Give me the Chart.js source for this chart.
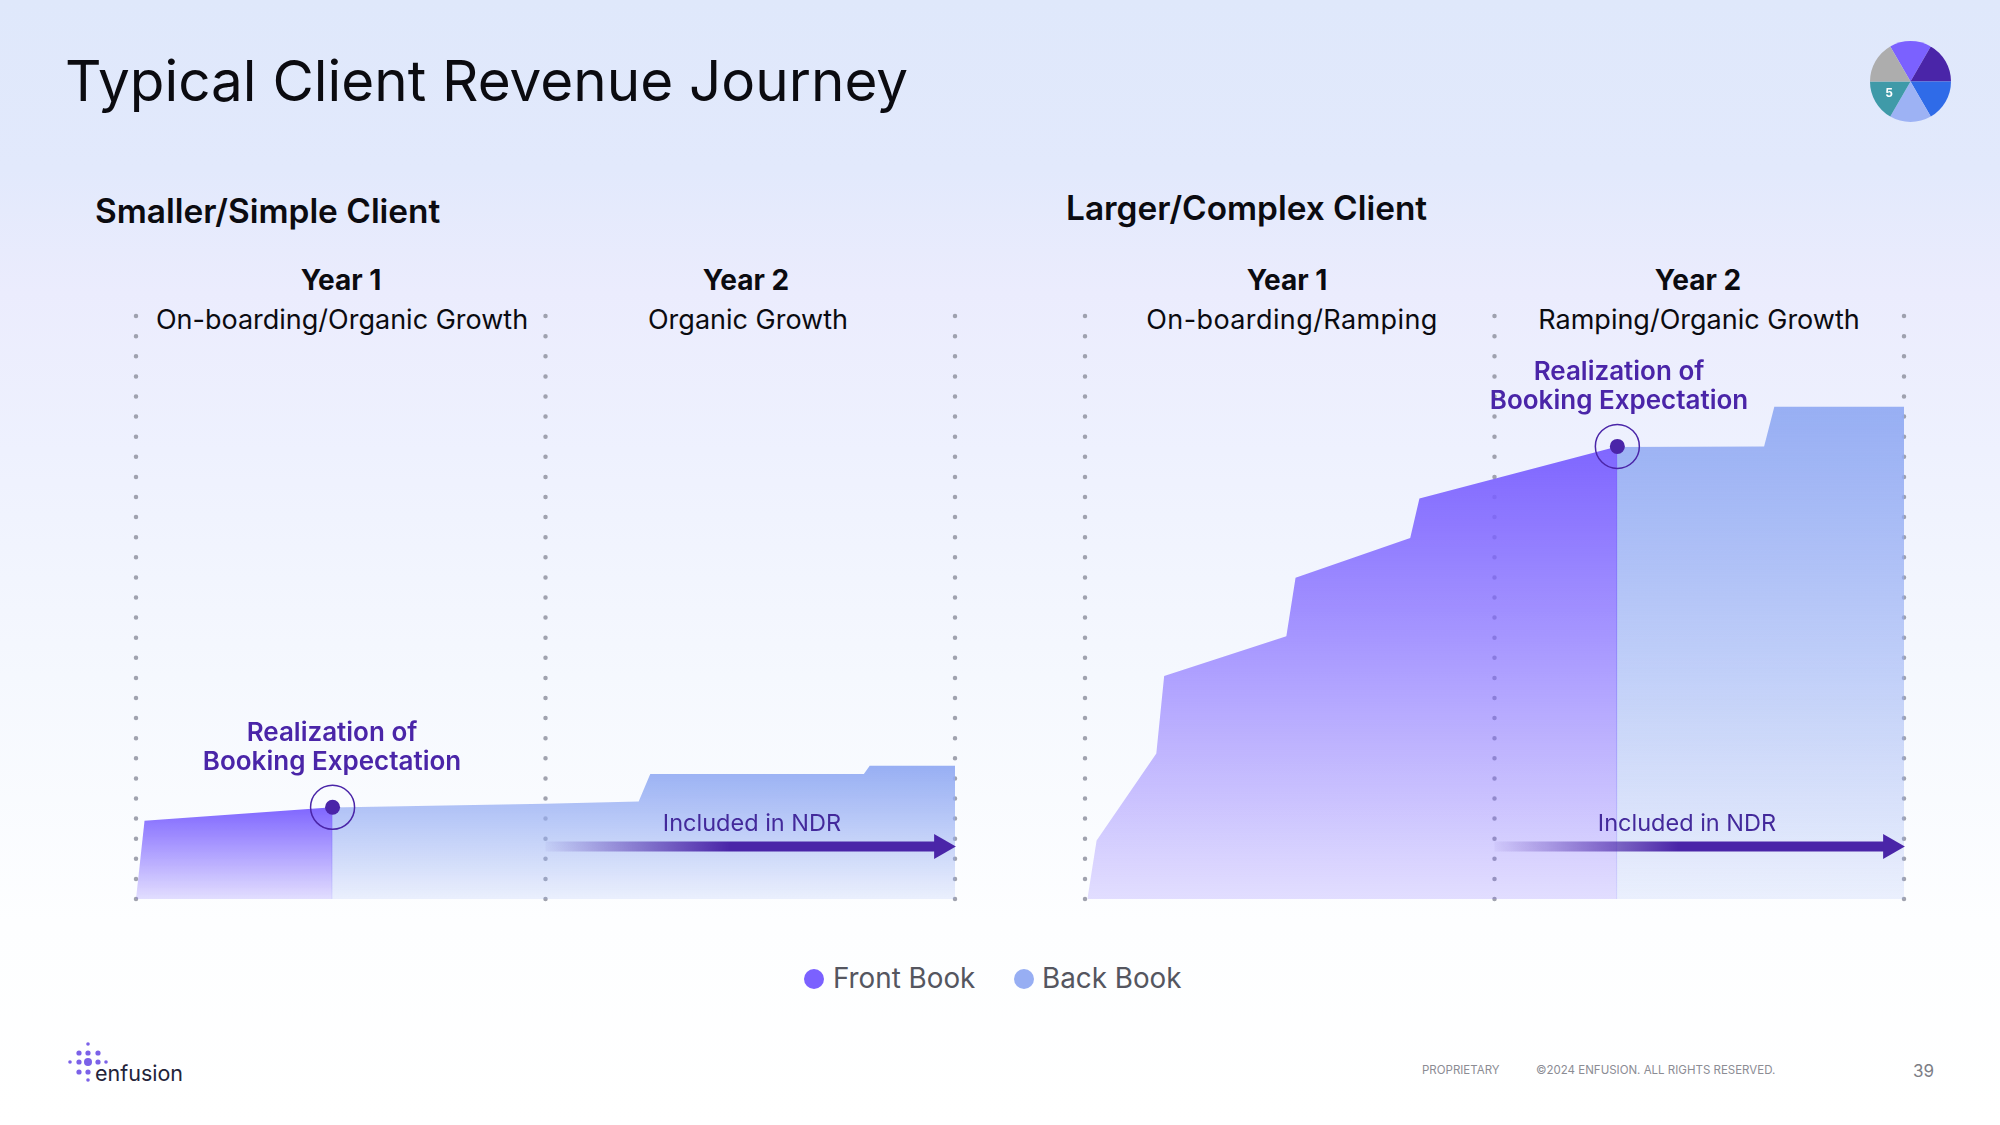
<!DOCTYPE html>
<html>
<head>
<meta charset="utf-8">
<title>Typical Client Revenue Journey</title>
<script src="https://cdn.jsdelivr.net/npm/chart.js@4"></script>
<style>
  html, body { margin: 0; padding: 0; }
  body {
    width: 2000px; height: 1125px; position: relative; overflow: hidden;
    font-family: Inter, "Noto Sans", sans-serif; color: #0b0b10;
    background: linear-gradient(180deg, #dfe8fb 0%, #e2e9fc 15%, #ebecfd 26%, #eef1fe 40%, #f5f8fe 60%, #fdfeff 82%, #ffffff 100%);
  }
  .t { position: absolute; white-space: nowrap; line-height: 1; }
  .c { transform: translate(-50%, -50%); text-align: center; }
  .l { transform: translateY(-50%); }
  h1 { margin: 0; font-size: 56.6px; font-weight: 400; }
  .client { font-size: 33.4px; font-weight: 600; }
  .year { font-size: 28px; font-weight: 700; }
  .phase { font-size: 27px; font-weight: 400; }
  .real { font-size: 26px; font-weight: 600; color: #4a25a8; line-height: 29px; }
  .ndr { font-size: 23.5px; font-weight: 400; color: #43299b; }
  .leg { font-size: 27.8px; color: #55565f; }
  .dot { position: absolute; width: 20px; height: 20px; border-radius: 50%; transform: translate(-50%, -50%); }
  .foot { font-size: 11.5px; color: #8b8c94; }
  .panel { position: absolute; width: 851px; height: 616px; top: 299px; }
  #badge { position: absolute; left: 1870px; top: 41px; width: 81px; height: 81px; }
</style>
</head>
<body>
  <h1 class="t l" style="left:65px;top:81px">Typical Client Revenue Journey</h1>

  <div class="t l client" style="left:95px;top:212px">Smaller/Simple Client</div>
  <div class="t l client" style="left:1066px;top:209px">Larger/Complex Client</div>

  <div class="t c year" style="left:341px;top:280px">Year 1</div>
  <div class="t c year" style="left:746px;top:280px">Year 2</div>
  <div class="t c year" style="left:1287px;top:280px">Year 1</div>
  <div class="t c year" style="left:1698px;top:280px">Year 2</div>

  <div class="t c phase" style="left:342px;top:319px">On-boarding/Organic Growth</div>
  <div class="t c phase" style="left:748px;top:319px">Organic Growth</div>
  <div class="t c phase" style="left:1292px;top:319px;letter-spacing:0.4px">On-boarding/Ramping</div>
  <div class="t c phase" style="left:1699px;top:319px">Ramping/Organic Growth</div>

  <div class="panel" style="left:120px"><canvas id="simple-chart"></canvas></div>
  <div class="panel" style="left:1069px"><canvas id="complex-chart"></canvas></div>

  <div class="t c real" style="left:332px;top:746px">Realization of<br>Booking Expectation</div>
  <div class="t c real" style="left:1619px;top:385px">Realization of<br>Booking Expectation</div>
  <div class="t c ndr" style="left:752px;top:823px">Included in NDR</div>
  <div class="t c ndr" style="left:1687px;top:823px">Included in NDR</div>

  <span class="dot" style="left:814px;top:979px;background:#7b61ff"></span>
  <div class="t l leg" style="left:833px;top:979px">Front Book</div>
  <span class="dot" style="left:1024px;top:979px;background:#97aef3"></span>
  <div class="t l leg" style="left:1042px;top:979px">Back Book</div>

  <div id="badge"><canvas id="badge-chart"></canvas></div>
  <div class="t c" style="left:1889px;top:93px;font-size:12px;font-weight:700;color:#fff">5</div>

  <svg style="position:absolute;left:0;top:1030px" width="120" height="60" fill="#7b61e8">
    <circle cx="88" cy="14" r="1.8"/>
    <circle cx="79" cy="23" r="2.6"/><circle cx="88" cy="23" r="2.6"/><circle cx="98" cy="23" r="2.6"/>
    <circle cx="70" cy="32" r="1.8"/><circle cx="79" cy="32" r="2.6"/><circle cx="88" cy="32" r="4"/><circle cx="98" cy="32" r="2.6"/><circle cx="106" cy="32" r="1.8"/>
    <circle cx="79" cy="42" r="2.6"/><circle cx="88" cy="42" r="2.6"/>
    <circle cx="88" cy="50" r="1.8"/>
  </svg>
  <div class="t l" style="left:95px;top:1074px;font-size:21.5px;color:#23233a">enfusion</div>

  <div class="t l foot" style="left:1422px;top:1071px">PROPRIETARY</div>
  <div class="t l foot" style="left:1536px;top:1071px">©2024 ENFUSION. ALL RIGHTS RESERVED.</div>
  <div class="t l" style="left:1913px;top:1071px;font-size:17px;color:#7c7d85">39</div>

<script>
// months since go-live, revenue as % of the panel height
const simpleFrontMonths = [0, 0.25, 5.76];
const simpleFrontRevenue = [0, 13.4, 15.7];
const simpleBackMonths = [5.72, 12, 14.73, 15.07, 21.33, 21.5, 24];
const simpleBackRevenue = [15.65, 16.3, 16.7, 21.4, 21.4, 22.8, 22.8];

const complexFrontMonths = [0.07, 0.34, 2.09, 2.32, 5.9, 6.17, 9.53, 9.8, 15.6];
const complexFrontRevenue = [0, 10, 24.9, 38.2, 45, 55, 61.8, 68.6, 77.5];
const complexBackMonths = [15.56, 19.9, 20.2, 24];
const complexBackRevenue = [77.4, 77.5, 84.3, 84.3];

const dividerMonths = [0, 12, 24];
const ndrMonths = [12, 23.6];
const ndrLevels = [9, 9];
const panelRange = [0, 100];

const pieSlices = [1, 1, 1, 1, 1, 1];
const pieColors = ['#7b61ff', '#4a25a8', '#2f6be8', '#9db2f4', '#3f9aa8', '#adadad'];

const toPoints = (xs, ys) => xs.map((x, i) => ({ x, y: ys[i] }));

function areaFill(topColor, bottomColor, values) {
  return ctx => {
    const { chart } = ctx;
    if (!chart.chartArea) return topColor;
    const y = chart.scales.y;
    const g = chart.ctx.createLinearGradient(0, y.getPixelForValue(Math.max(...values)), 0, y.getPixelForValue(0));
    g.addColorStop(0, topColor);
    g.addColorStop(1, bottomColor);
    return g;
  };
}

function arrowStroke(ctx) {
  const { chart } = ctx;
  if (!chart.chartArea) return '#4a25a8';
  const x = chart.scales.x;
  const g = chart.ctx.createLinearGradient(x.getPixelForValue(12), 0, x.getPixelForValue(24), 0);
  g.addColorStop(0, 'rgba(74,37,168,0.04)');
  g.addColorStop(0.45, 'rgba(74,37,168,1)');
  g.addColorStop(1, 'rgba(74,37,168,1)');
  return g;
}

function renderPanel(id, frontMonths, frontRevenue, backMonths, backRevenue) {
  const last = frontMonths.length - 1;
  const target = [{ x: frontMonths[last], y: frontRevenue[last] }];

  const dividers = dividerMonths.map(m => ({
    data: toPoints([m, m], panelRange),
    borderColor: 'rgba(150,152,165,0.9)',
    borderWidth: 4.5,
    borderCapStyle: 'round',
    borderDash: [0, 20.1],
    pointRadius: 0,
    clip: false,
    order: 5
  }));

  new Chart(document.getElementById(id), {
    type: 'line',
    data: {
      datasets: [
        ...dividers,
        {
          label: 'Front Book',
          data: toPoints(frontMonths, frontRevenue),
          fill: 'origin',
          borderWidth: 0,
          pointRadius: 0,
          backgroundColor: areaFill('rgba(123,97,255,0.97)', 'rgba(123,97,255,0.2)', frontRevenue),
          order: 3
        },
        {
          label: 'Back Book',
          data: toPoints(backMonths, backRevenue),
          fill: 'origin',
          borderWidth: 0,
          pointRadius: 0,
          backgroundColor: areaFill('rgba(148,172,243,0.97)', 'rgba(148,172,243,0.17)', backRevenue),
          order: 4
        },
        {
          label: 'Included in NDR',
          data: toPoints(ndrMonths, ndrLevels),
          borderColor: arrowStroke,
          borderWidth: 10,
          pointRadius: [0, 14.5],
          pointStyle: 'triangle',
          pointRotation: 90,
          pointBackgroundColor: '#4a25a8',
          pointBorderWidth: 0,
          clip: false,
          order: 2
        },
        {
          label: 'Ring',
          data: target,
          showLine: false,
          pointRadius: 22,
          pointBackgroundColor: 'rgba(0,0,0,0)',
          pointBorderColor: '#4a25a8',
          pointBorderWidth: 1.5,
          clip: false,
          order: 1
        },
        {
          label: 'Realization of Booking Expectation',
          data: target,
          showLine: false,
          pointRadius: 7.5,
          pointBackgroundColor: '#4a25a8',
          pointBorderWidth: 0,
          clip: false,
          order: 0
        }
      ]
    },
    options: {
      responsive: true,
      maintainAspectRatio: false,
      animation: false,
      elements: { line: { tension: 0 } },
      layout: { padding: 16, autoPadding: false },
      plugins: { legend: { display: false }, tooltip: { enabled: false } },
      scales: {
        x: { type: 'linear', min: 0, max: 24, display: false },
        y: { min: panelRange[0], max: panelRange[1], display: false }
      }
    }
  });
}

renderPanel('simple-chart', simpleFrontMonths, simpleFrontRevenue, simpleBackMonths, simpleBackRevenue);
renderPanel('complex-chart', complexFrontMonths, complexFrontRevenue, complexBackMonths, complexBackRevenue);

new Chart(document.getElementById('badge-chart'), {
  type: 'pie',
  data: { datasets: [{ data: pieSlices, backgroundColor: pieColors, borderWidth: 0 }] },
  options: {
    responsive: true,
    maintainAspectRatio: false,
    animation: false,
    rotation: -30,
    plugins: { legend: { display: false }, tooltip: { enabled: false } }
  }
});
</script>
</body>
</html>
